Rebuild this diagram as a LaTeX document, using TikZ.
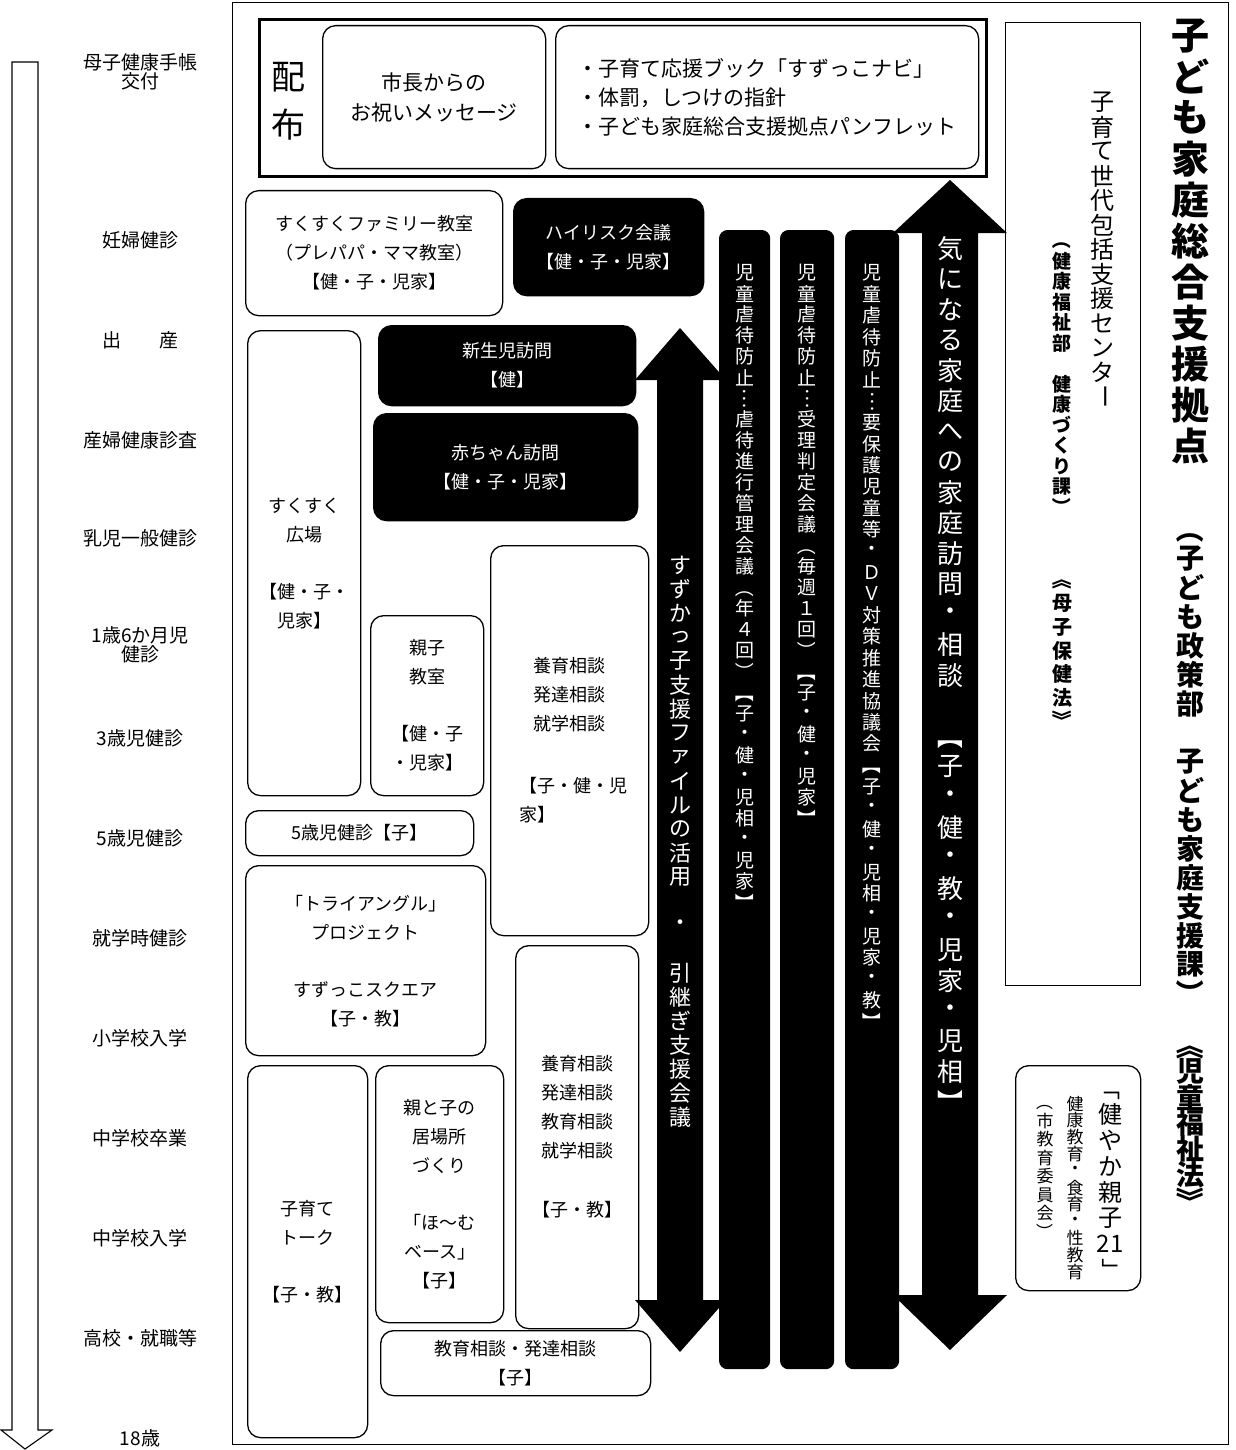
\documentclass[tikz,border=0pt]{standalone}
\usepackage{fontspec}
\usepackage{graphicx}
\setmainfont{Noto Sans CJK JP}
\makeatletter
\newdimen\vt@p
\def\vt@end{\vt@end@}
\newcommand\vtext[2]{\vt@p=#1\relax\vbox{\offinterlineskip\vt@loop#2\vt@end}}
\def\vt@loop#1{\ifx\vt@end#1\else\vt@cell{#1}\expandafter\vt@loop\fi}
\def\vt@cell#1{\hbox to 1.1em{\hss\vbox to \vt@p{\vss\hbox{#1}\vss}\hss}}
\makeatother
\newcommand\vrot[1]{\rotatebox[origin=c]{-90}{#1}}
\tikzset{
  wbox/.style={draw, line width=1.3pt, rounded corners=13pt, inner sep=0pt, anchor=north west, align=center, font=\fontsize{18}{29}\selectfont},
  dbox/.style={wbox, fill=black, text=white},
  plainbox/.style={draw, line width=1.3pt, inner sep=0pt, anchor=north west},
  barbox/.style={draw, fill=black, line width=1.2pt, rounded corners=8pt, inner sep=0pt, anchor=north west},
  age/.style={font=\fontsize{19}{17}\selectfont, align=center, inner sep=0pt},
  vt/.style={inner sep=0pt, anchor=north},
}
\begin{document}
\begin{tikzpicture}[x=1pt,y=-1pt]
\path[use as bounding box] (0,0) rectangle (1235,1450);
% outer frame
\node[plainbox, line width=1.4pt, minimum width=996pt, minimum height=1442pt] (frame) at (232,2) {};
% timeline arrow
\coordinate (tl) at (12,62);
\draw[line width=1.1pt] (tl) -- (38,62) -- (38,1430) -- (52,1430) -- (25,1449) -- (1,1430) -- (12,1430) -- cycle;
% ages
\node[age] (a0) at (140,72) {母子健康手帳\\交付};
\node[age] (a1) at (140,240) {妊婦健診};
\node[age] (a2) at (140,340) {出　　産};
\node[age] (a3) at (140,440) {産婦健康診査};
\node[age] (a4) at (140,538) {乳児一般健診};
\node[age] (a5) at (140,645) {1歳6か月児\\健診};
\node[age] (a6) at (140,738) {3歳児健診};
\node[age] (a7) at (140,838) {5歳児健診};
\node[age] (a8) at (140,938) {就学時健診};
\node[age] (a9) at (140,1038) {小学校入学};
\node[age] (a10) at (140,1138) {中学校卒業};
\node[age] (a11) at (140,1238) {中学校入学};
\node[age] (a12) at (140,1338) {高校・就職等};
\node[age] (a13) at (140,1438) {18歳};
% top distribution box
\node[plainbox, line width=2.6pt, minimum width=727pt, minimum height=157pt] (haifu) at (258,18) {};
\node[font=\fontsize{34}{48}\selectfont, align=center, inner sep=0pt] (haifulbl) at (288,101) {配\\布};
\node[wbox, minimum width=223pt, minimum height=143pt, font=\fontsize{21}{30}\selectfont] (msg) at (322,25) {市長からの\\お祝いメッセージ};
\node[wbox, minimum width=423pt, minimum height=143pt, align=left, font=\fontsize{21}{29}\selectfont] (books) at (555,25) {・子育て応援ブック「すずっこナビ」\\・体罰，しつけの指針\\・子ども家庭総合支援拠点パンフレット};
% left boxes
\node[wbox, minimum width=257pt, minimum height=125pt] (famcls) at (245,190) {すくすくファミリー教室\\（プレパパ・ママ教室）\\【健・子・児家】};
\node[dbox, minimum width=190pt, minimum height=97pt] (hirisk) at (513,198) {ハイリスク会議\\【健・子・児家】};
\node[dbox, minimum width=257pt, minimum height=80pt] (shinsei) at (378,325) {新生児訪問\\【健】};
\node[dbox, minimum width=264pt, minimum height=107pt] (akachan) at (373,413) {赤ちゃん訪問\\【健・子・児家】};
\node[wbox, minimum width=113pt, minimum height=465pt] (hiroba) at (247,330) {すくすく\\広場\\[28pt]【健・子・\\児家】};
\node[wbox, minimum width=113pt, minimum height=180pt] (oyako) at (370,615) {親子\\教室\\[28pt]【健・子\\・児家】};
\node[wbox, minimum width=158pt, minimum height=390pt] (soudan1) at (490,545) {養育相談\\発達相談\\就学相談\\[33pt]\makebox[100pt][l]{【子・健・児}\\\makebox[100pt][l]{家】}};
\node[wbox, minimum width=228pt, minimum height=45pt] (gosai) at (245,810) {5歳児健診【子】};
\node[wbox, minimum width=240pt, minimum height=190pt] (tri) at (245,865) {「トライアングル」\\プロジェクト\\[28pt]すずっこスクエア\\【子・教】};
\node[wbox, minimum width=123pt, minimum height=383pt] (soudan2) at (515,945) {養育相談\\発達相談\\教育相談\\就学相談\\[30pt]【子・教】};
\node[wbox, minimum width=120pt, minimum height=372pt] (talk) at (247,1065) {子育て\\トーク\\[28pt]【子・教】};
\node[wbox, minimum width=128pt, minimum height=257pt] (home) at (375,1065) {親と子の\\居場所\\づくり\\[28pt]「ほ〜む\\ベース」\\【子】};
\node[wbox, minimum width=270pt, minimum height=65pt] (kyoiku) at (380,1330) {教育相談・発達相談\\【子】};
% dark bars
\node[barbox, minimum width=50pt, minimum height=1138pt] (bar1) at (719,230) {};
\node[barbox, minimum width=53pt, minimum height=1138pt] (bar2) at (780,230) {};
\node[barbox, minimum width=53pt, minimum height=1138pt] (bar3) at (845,230) {};
\node[vt, text=white, font=\fontsize{19}{19}\selectfont] (bt1) at (bar1.north |- 0,262) {\vtext{21pt}{児童虐待防止{\vrot{…}}虐待進行管理会議{\vrot{（}}年４回{\vrot{）}}{\vrot{【}}子・健・児相・児家{\vrot{】}}}};
\node[vt, text=white, font=\fontsize{19}{19}\selectfont] (bt2) at (bar2.north |- 0,262) {\vtext{21pt}{児童虐待防止{\vrot{…}}受理判定会議{\vrot{（}}毎週１回{\vrot{）}}{\vrot{【}}子・健・児家{\vrot{】}}}};
\node[vt, text=white, font=\fontsize{19}{19}\selectfont] (bt3) at (bar3.north |- 0,262) {\vtext{21.4pt}{児童虐待防止{\vrot{…}}要保護児童等・ＤＶ対策推進協議会{\vrot{【}}子・健・児相・児家・教{\vrot{】}}}};
% big double arrows
\fill (680,328) -- (726,380) -- (703,380) -- (703,1300) -- (726,1300) -- (680,1352) -- (635,1300) -- (657,1300) -- (657,380) -- (635,380) -- cycle;
\fill (950,180) -- (1007,233) -- (978,233) -- (978,1295) -- (1007,1295) -- (950,1350) -- (893,1295) -- (922,1295) -- (922,233) -- (893,233) -- cycle;
\node[vt, text=white, font=\fontsize{22}{22}\selectfont] (arrA) at (680,553) {\vtext{24pt}{すずかっ子支援ファイルの活用　・　引継ぎ支援会議}};
\node[vt, text=white, font=\fontsize{26}{26}\selectfont] (arrB) at (950,233) {\vtext{30.5pt}{気になる家庭への家庭訪問・相談　{\vrot{【}}子・健・教・児家・児相{\vrot{】}}}};
% right center box
\node[plainbox, minimum width=135pt, minimum height=963pt] (center) at (1005,22) {};
\node[vt, font=\fontsize{24}{24}\selectfont] (ctr1) at (1102,90) {\vtext{24.5pt}{子育て世代包括支援センタ{\vrot{ー}}}};
\node[vt, font=\fontsize{19}{19}\selectfont\bfseries] (ctr2) at (1062,230) {\vtext{20.5pt}{{\vrot{（}}健康福祉部　健康づくり課{\vrot{）}}}};
\node[vt, font=\fontsize{20}{20}\selectfont\bfseries] (ctr3) at (1062,568) {\vtext{23.5pt}{{\vrot{《}}母子保健法{\vrot{》}}}};
% kenyaka box
\node[wbox, minimum width=125pt, minimum height=225pt] (kenyaka) at (1015,1065) {};
\node[vt, font=\fontsize{24}{24}\selectfont] (ky1) at (1110,1075) {\vtext{26pt}{{\vrot{「}}健やか親子{21}{\vrot{」}}}};
\node[vt, font=\fontsize{17}{17}\selectfont] (ky2) at (1075,1095) {\vtext{16.8pt}{健康教育・食育・性教育}};
\node[vt, font=\fontsize{17}{17}\selectfont] (ky3) at (1045,1093) {\vtext{18.5pt}{{\vrot{（}}市教育委員会{\vrot{）}}}};
% title column
\node[vt, font=\fontsize{38}{38}\selectfont\bfseries] (title1) at (1190,15) {\vtext{41pt}{子ども家庭総合支援拠点}};
\node[vt, font=\fontsize{28}{28}\selectfont\bfseries] (title2) at (1190,515) {\vtext{29pt}{{\vrot{（}}子ども政策部　子ども家庭支援課{\vrot{）}}}};
\node[vt, font=\fontsize{28}{28}\selectfont\bfseries] (title3) at (1190,1032) {\vtext{26pt}{{\vrot{《}}児童福祉法{\vrot{》}}}};
\end{tikzpicture}
\end{document}
